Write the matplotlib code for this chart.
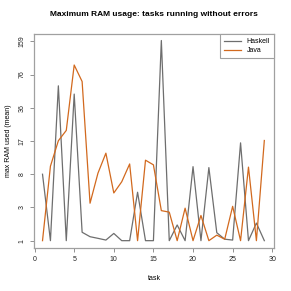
import matplotlib
matplotlib.use("Agg")
import matplotlib.pyplot as plt
import numpy as np

plt.rcParams['font.family'] = ['Liberation Sans', 'DejaVu Sans']

# data (max RAM used, mean) per task
tasks = np.arange(1, 30)
haskell = [8, 1, 59, 1, 49, 1.32, 1.14, 1.08, 1.02, 1.27, 1, 1, 4.7, 1, 1,
           162, 1, 1.68, 1, 9.5, 1, 9.3, 1.3, 1.05, 1.02, 16.3, 1, 1.79, 1]
java = [1, 9.6, 17.1, 21.6, 94, 65, 3.4, 8.2, 12.9, 4.6, 6.4, 10.1, 1, 11.0, 9.9,
        2.7, 2.57, 1, 2.93, 1, 2.3, 1, 1.2, 1.05, 3.1, 1, 9.4, 1, 17.2]

ytick_vals = [1, 3, 8, 17, 36, 76, 159]
xtick_vals = [0, 5, 10, 15, 20, 25, 30]

# y axis: ticks evenly spaced, log-interpolated between them
logt = np.log(ytick_vals)
pos = np.arange(len(ytick_vals), dtype=float)
logt_ext = np.concatenate([[logt[0] - 10 * (logt[1] - logt[0])], logt,
                           [logt[-1] + 10 * (logt[-1] - logt[-2])]])
pos_ext = np.concatenate([[-10.0], pos, [pos[-1] + 10]])


def forward(v):
    v = np.asarray(v, dtype=float)
    return np.interp(np.log(np.clip(v, 1e-6, None)), logt_ext, pos_ext)


def inverse(p):
    return np.exp(np.interp(p, pos_ext, logt_ext))


fig = plt.figure(figsize=(2.91, 2.91), dpi=100)
ax = fig.add_axes([0.1175, 0.149, 0.8235, 0.734])

ax.plot(tasks, haskell, color='#6e6e6e', lw=0.9, label='Haskell')
ax.plot(tasks, java, color='#d2691e', lw=0.9, label='Java')

ax.set_yscale('function', functions=(forward, inverse))
ax.set_ylim(inverse(-0.21), inverse(6.22))
ax.set_xlim(-0.05, 30.2)
ax.set_yticks(ytick_vals)
ax.set_yticklabels([str(v) for v in ytick_vals], rotation=90, va='center')
ax.yaxis.set_minor_locator(matplotlib.ticker.NullLocator())
ax.set_xticks(xtick_vals)

for s in ax.spines.values():
    s.set_color('#a0a0a0')
    s.set_linewidth(0.9)
ax.tick_params(labelsize=5, length=3, width=0.6, color='#808080',
               labelcolor='#222222', pad=3)

ax.set_title('Maximum RAM usage: tasks running without errors',
             fontsize=6, fontweight='bold', pad=13)
ax.set_xlabel('task', fontsize=5, labelpad=9)
ax.set_ylabel('max RAM used (mean)', fontsize=5, labelpad=5)

leg = ax.legend(loc='upper right', fontsize=5, fancybox=False,
                borderaxespad=0, handlelength=2.4, framealpha=1,
                edgecolor='#a0a0a0', borderpad=0.6, labelspacing=0.3)
leg.get_frame().set_linewidth(0.8)

fig.savefig('out.png', dpi=100)
